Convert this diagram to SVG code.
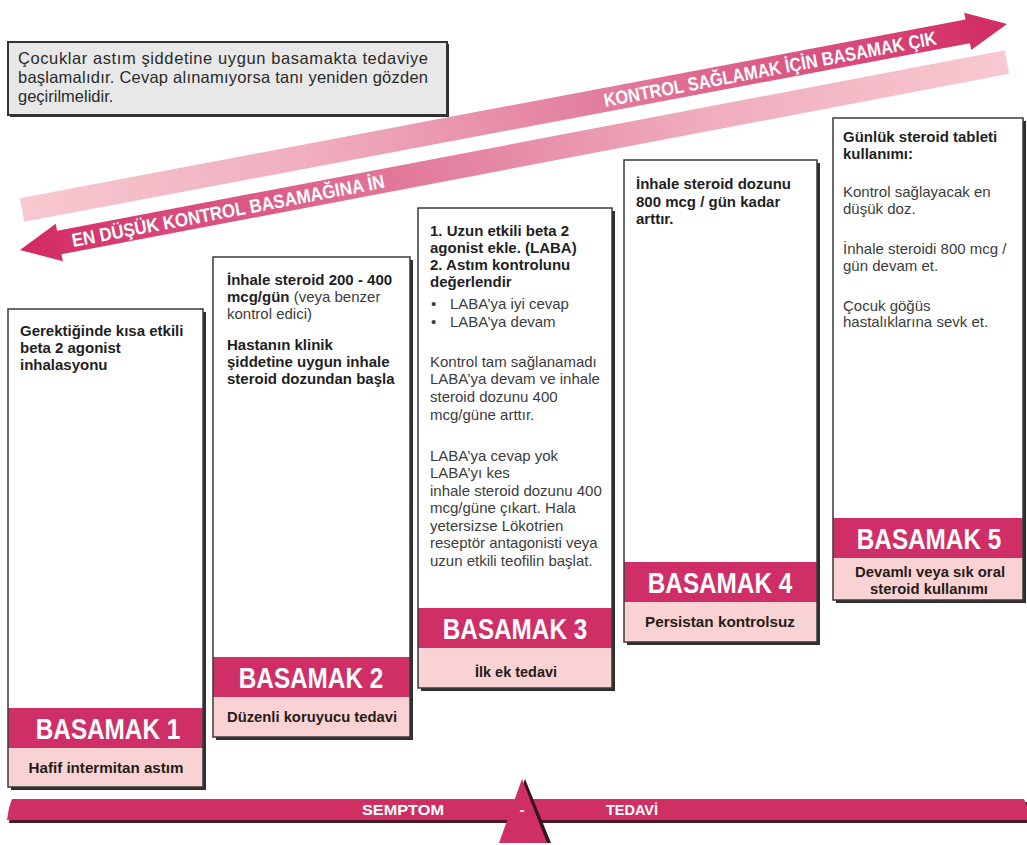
<svg xmlns="http://www.w3.org/2000/svg" width="1027" height="845" viewBox="0 0 1027 845">
<defs>
<style>
.shadow{fill:#2f2f2f}
.box{fill:#fff}
.outline{fill:none;stroke:#3a3a3a;stroke-width:1.5}
.hdr{fill:#cf2f66}
.sub{fill:#f9d3d3}
.hdrtxt{font-family:"Liberation Sans",Arial,sans-serif;font-weight:bold;font-size:30px;fill:#fff;text-anchor:middle}
.subtxt{font-family:"Liberation Sans Narrow","Liberation Sans",Arial,sans-serif;font-weight:bold;font-size:15px;fill:#2a1a1a;text-anchor:middle}
.b{font-family:"Liberation Sans",Arial,sans-serif;font-size:15px;font-weight:bold;fill:#1f1f1f}
.r{font-family:"Liberation Sans",Arial,sans-serif;font-size:15px;font-weight:normal;fill:#3c3c3c}
.note{font-family:"Liberation Sans",Arial,sans-serif;font-size:16.5px;fill:#2a2a2a}
.arrtxt{font-family:"Liberation Sans Narrow","Liberation Sans",Arial,sans-serif;font-weight:bold;font-size:19px;fill:#fff;text-anchor:middle}
.bartxt{font-family:"Liberation Sans Narrow","Liberation Sans",Arial,sans-serif;font-weight:bold;font-size:15px;fill:#fff;text-anchor:middle}
.pink{fill:#cf2f62}
</style>
<linearGradient id="upGrad" gradientUnits="userSpaceOnUse" x1="20" y1="210" x2="1007" y2="24">
<stop offset="0" stop-color="#f7c9d1"/>
<stop offset="0.3" stop-color="#f0adbd"/>
<stop offset="0.6" stop-color="#e27b9c"/>
<stop offset="0.85" stop-color="#d8487a"/>
<stop offset="1" stop-color="#d22a60"/>
</linearGradient>
<linearGradient id="downGrad" gradientUnits="userSpaceOnUse" x1="20" y1="250" x2="1007" y2="62">
<stop offset="0" stop-color="#d22a60"/>
<stop offset="0.15" stop-color="#d8487a"/>
<stop offset="0.4" stop-color="#e27b9c"/>
<stop offset="0.7" stop-color="#f0adbd"/>
<stop offset="1" stop-color="#f7c9d1"/>
</linearGradient>
</defs>
<rect width="1027" height="845" fill="#fff"/>

<g id="note">
<rect x="10" y="44" width="439" height="73" class="shadow"/>
<rect x="8" y="42" width="439" height="73" fill="#e8e8e8" stroke="#333" stroke-width="2"/>
<text class="note" x="18" y="64" textLength="410" lengthAdjust="spacing">Çocuklar astım şiddetine uygun basamakta tedaviye</text>
<text class="note" x="18" y="83" textLength="410" lengthAdjust="spacing">başlamalıdır. Cevap alınamıyorsa tanı yeniden gözden</text>
<text class="note" x="18" y="102">geçirilmelidir.</text>
</g>

<g id="connectors">
<g id="arrow-up">
<polygon points="19.8,198.2 965.5,19.6 964.2,12.8 1007,24 971.2,50.1 969.9,43.2 24.2,221.8" fill="url(#upGrad)"/>
<text class="arrtxt" transform="translate(770,68.8) rotate(-10.7)" x="0" y="7" textLength="338" lengthAdjust="spacingAndGlyphs">KONTROL SAĞLAMAK İÇİN BASAMAK ÇIK</text>
</g>
<g id="arrow-down">
<polygon points="20,250 55.7,223.8 57.1,230.7 1004.8,50.2 1009.2,73.8 61.5,254.3 62.9,261.2" fill="url(#downGrad)"/>
<text class="arrtxt" transform="translate(228,210.4) rotate(-10.8)" x="0" y="7" textLength="318" lengthAdjust="spacingAndGlyphs">EN DÜŞÜK KONTROL BASAMAĞINA İN</text>
</g>
</g>

<g id="step1">
<rect x="11" y="312" width="195" height="478" class="shadow"/>
<rect x="8" y="309" width="195" height="478" class="box"/>
<rect x="8" y="708" width="195" height="40" class="hdr"/>
<rect x="8" y="748" width="195" height="39" class="sub"/>
<rect x="8" y="309" width="195" height="478" class="outline"/>
<text class="b" x="20" y="336">Gerektiğinde kısa etkili</text>
<text class="b" x="20" y="353">beta 2 agonist</text>
<text class="b" x="20" y="370">inhalasyonu</text>
<text class="hdrtxt" transform="translate(108,739) scale(0.81,1)">BASAMAK 1</text>
<text class="subtxt" x="106" y="773" textLength="155" lengthAdjust="spacingAndGlyphs">Hafif intermitan astım</text>
</g>

<g id="step2">
<rect x="216" y="260" width="197" height="480" class="shadow"/>
<rect x="213" y="257" width="197" height="480" class="box"/>
<rect x="213" y="657" width="197" height="40" class="hdr"/>
<rect x="213" y="697" width="197" height="40" class="sub"/>
<rect x="213" y="257" width="197" height="480" class="outline"/>
<text class="b" x="227" y="285">İnhale steroid 200 - 400</text>
<text class="b" x="227" y="302">mcg/gün <tspan class="r">(veya benzer</tspan></text>
<text class="r" x="227" y="319">kontrol edici)</text>
<text class="b" x="227" y="350">Hastanın klinik</text>
<text class="b" x="227" y="367">şiddetine uygun inhale</text>
<text class="b" x="227" y="384">steroid dozundan başla</text>
<text class="hdrtxt" transform="translate(311,688) scale(0.81,1)">BASAMAK 2</text>
<text class="subtxt" x="312" y="722" textLength="170" lengthAdjust="spacingAndGlyphs">Düzenli koruyucu tedavi</text>
</g>

<g id="step3">
<rect x="421" y="211" width="194" height="480" class="shadow"/>
<rect x="418" y="208" width="194" height="480" class="box"/>
<rect x="418" y="608" width="194" height="40" class="hdr"/>
<rect x="418" y="648" width="194" height="40" class="sub"/>
<rect x="418" y="208" width="194" height="480" class="outline"/>
<text class="b" x="430" y="236">1. Uzun etkili beta 2</text>
<text class="b" x="430" y="253">agonist ekle. (LABA)</text>
<text class="b" x="430" y="270">2. Astım kontrolunu</text>
<text class="b" x="430" y="287">değerlendir</text>
<text class="r" x="431" y="309">•</text>
<text class="r" x="450" y="309">LABA’ya iyi cevap</text>
<text class="r" x="431" y="327">•</text>
<text class="r" x="450" y="327">LABA’ya devam</text>
<text class="r" x="430" y="367">Kontrol tam sağlanamadı</text>
<text class="r" x="430" y="384">LABA’ya devam ve inhale</text>
<text class="r" x="430" y="402">steroid dozunu 400</text>
<text class="r" x="430" y="420">mcg/güne arttır.</text>
<text class="r" x="430" y="461">LABA’ya cevap yok</text>
<text class="r" x="430" y="478">LABA’yı kes</text>
<text class="r" x="430" y="496">inhale steroid dozunu 400</text>
<text class="r" x="430" y="513">mcg/güne çıkart. Hala</text>
<text class="r" x="430" y="531">yetersizse Lökotrien</text>
<text class="r" x="430" y="548">reseptör antagonisti veya</text>
<text class="r" x="430" y="566">uzun etkili teofilin başlat.</text>
<text class="hdrtxt" transform="translate(515,639) scale(0.81,1)">BASAMAK 3</text>
<text class="subtxt" x="516" y="677" textLength="82" lengthAdjust="spacingAndGlyphs">İlk ek tedavi</text>
</g>

<g id="step4">
<rect x="627" y="163" width="193" height="482" class="shadow"/>
<rect x="624" y="160" width="193" height="482" class="box"/>
<rect x="624" y="562" width="193" height="40" class="hdr"/>
<rect x="624" y="602" width="193" height="40" class="sub"/>
<rect x="624" y="160" width="193" height="482" class="outline"/>
<text class="b" x="636" y="189">İnhale steroid dozunu</text>
<text class="b" x="636" y="207">800 mcg / gün kadar</text>
<text class="b" x="636" y="224">arttır.</text>
<text class="hdrtxt" transform="translate(720,593) scale(0.81,1)">BASAMAK 4</text>
<text class="subtxt" x="720" y="627" textLength="150" lengthAdjust="spacingAndGlyphs">Persistan kontrolsuz</text>
</g>

<g id="step5">
<rect x="836" y="121" width="190" height="482" class="shadow"/>
<rect x="833" y="118" width="190" height="482" class="box"/>
<rect x="833" y="518" width="190" height="40" class="hdr"/>
<rect x="833" y="558" width="190" height="42" class="sub"/>
<rect x="833" y="118" width="190" height="482" class="outline"/>
<text class="b" x="843" y="142">Günlük steroid tableti</text>
<text class="b" x="843" y="159">kullanımı:</text>
<text class="r" x="843" y="197">Kontrol sağlayacak en</text>
<text class="r" x="843" y="214">düşük doz.</text>
<text class="r" x="843" y="254">İnhale steroidi 800 mcg /</text>
<text class="r" x="843" y="271">gün devam et.</text>
<text class="r" x="843" y="311">Çocuk göğüs</text>
<text class="r" x="843" y="327">hastalıklarına sevk et.</text>
<text class="hdrtxt" transform="translate(929,549) scale(0.81,1)">BASAMAK 5</text>
<text class="subtxt" x="930" y="577" textLength="150" lengthAdjust="spacingAndGlyphs">Devamlı veya sık oral</text>
<text class="subtxt" x="929" y="594" textLength="118" lengthAdjust="spacingAndGlyphs">steroid kullanımı</text>
</g>

<g id="balance">
<polygon points="12,802 1027,802 1027,823 9,823" fill="#4a1a28"/>
<polygon points="12,799 1024,799 1027,806 1027,820 7,820 9,808" class="pink"/>
<polygon points="525,779 551,843 502,843" fill="#3a1020"/>
<polygon points="522,779 547,843 499,843" class="pink"/>
<text class="bartxt" x="403" y="815" textLength="82" lengthAdjust="spacingAndGlyphs">SEMPTOM</text>
<text class="bartxt" x="522" y="815">-</text>
<text class="bartxt" x="632" y="815" textLength="52" lengthAdjust="spacingAndGlyphs">TEDAVİ</text>
</g>
</svg>
